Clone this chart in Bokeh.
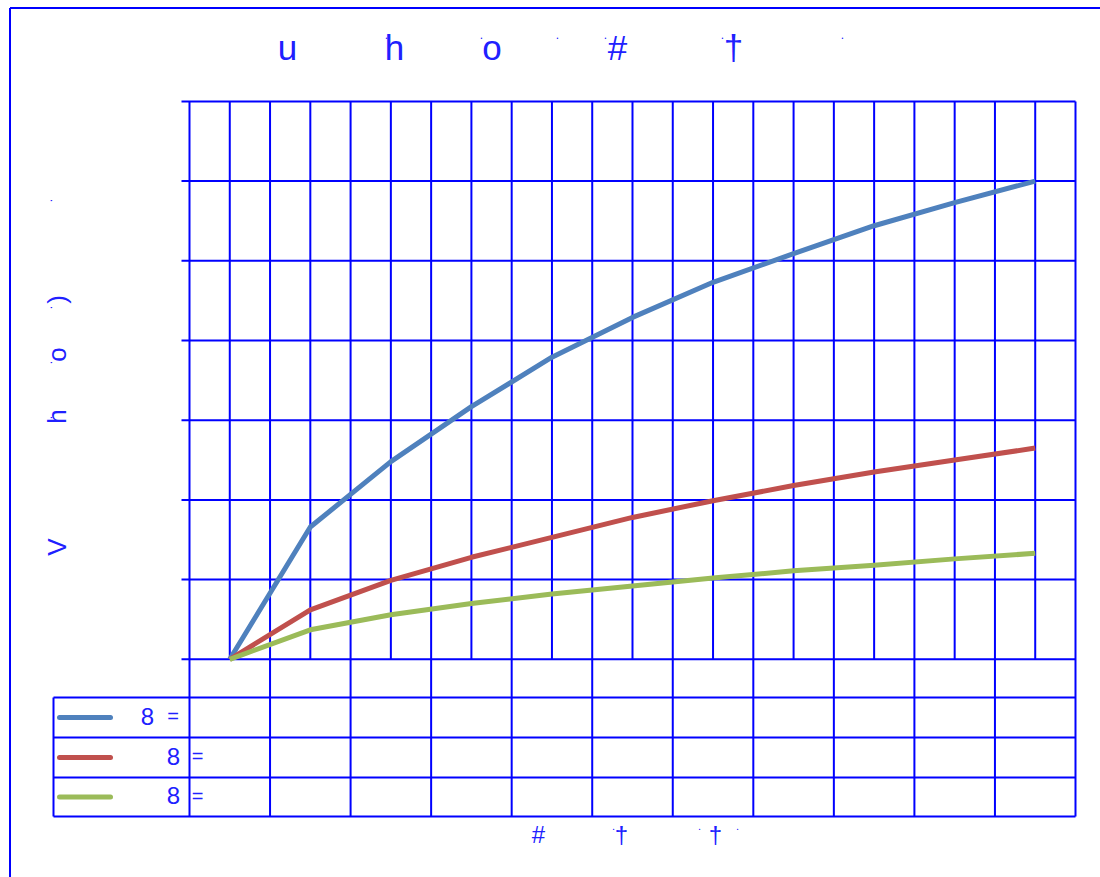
import numpy as np
from bokeh.plotting import figure
from bokeh.models import Range1d
from bokeh.core.properties import value
from bokeh.embed import file_html
from bokeh.resources import INLINE

# ---------------- data ----------------
categories = [str(i) for i in range(1, 12)]
series_labels = ["8", "8", "8"]
series_marks = ["=", "=", "="]
blue_vals = [0.0, 1.66, 2.48, 3.17, 3.79, 4.29, 4.73, 5.09, 5.44, 5.73, 6.00]
red_vals = [0.0, 0.62, 0.99, 1.28, 1.53, 1.78, 1.99, 2.18, 2.35, 2.50, 2.65]
green_vals = [0.0, 0.37, 0.56, 0.70, 0.82, 0.92, 1.02, 1.11, 1.18, 1.26, 1.33]
y_ticks = [0, 1, 2, 3, 4, 5, 6, 7]
title_glyphs = ["u", "h", "o", "#", "\u2020"]
ylabel_glyphs = ["V", "h", "o", ")"]
xlabel_glyphs = ["#", "\u2020", "\u2020"]

# ---------------- layout helpers (page pixel -> data) ----------------
W, H = 1100, 877
X0, DX = 229.27, 80.545
Y0, DY = 658.8, 79.7
BL = 0.37  # baseline correction as fraction of font size


def px(x):
    return (x - X0) / DX


def py(y):
    return (Y0 - y) / DY


BLUE = "#0000ff"
TXT = "#2020ff"
FONT = value("Liberation Sans")
series_colors = ["#4f81bd", "#c0504d", "#9bbb59"]

p = figure(width=W, height=H,
           x_range=Range1d(px(0), px(W)),
           y_range=Range1d(py(H), py(0)),
           toolbar_location=None, output_backend="svg",
           min_border=0, x_axis_location=None, y_axis_location=None)
p.outline_line_color = None
p.background_fill_color = "white"
p.border_fill_color = "white"
p.grid.visible = False

n = len(categories)
xr = n - 0.5
ytop = y_ticks[-1]

# outer frame
p.segment(x0=[px(9.5), px(9.5)], y0=[py(7.5), py(7.5)], x1=[px(W + 20), px(9.5)],
          y1=[py(7.5), py(H + 20)], line_color=BLUE, line_width=2)

# horizontal grid lines with tick stubs
p.segment(x0=[px(181)] * len(y_ticks), y0=y_ticks, x1=[xr] * len(y_ticks), y1=y_ticks,
          line_color=BLUE, line_width=2)

# vertical grid lines (category centres and boundaries)
centres = list(range(n))
bounds = [i - 0.5 for i in range(n + 1)]
table_rows = [py(697), py(737), py(777), py(816)]
p.segment(x0=centres, y0=[0] * n, x1=centres, y1=[ytop] * n, line_color=BLUE, line_width=2)
p.segment(x0=bounds, y0=[table_rows[-1]] * len(bounds), x1=bounds, y1=[ytop] * len(bounds),
          line_color=BLUE, line_width=2)

# data table lines
p.segment(x0=[px(53)] * 4, y0=table_rows, x1=[xr] * 4, y1=table_rows,
          line_color=BLUE, line_width=2)
p.segment(x0=[px(53)], y0=[table_rows[0]], x1=[px(53)], y1=[table_rows[-1]],
          line_color=BLUE, line_width=2)

# series lines
xs = list(range(n))
for vals, col in zip([blue_vals, red_vals, green_vals], series_colors):
    p.line(xs, vals, line_color=col, line_width=5, line_join="round")

# legend keys inside the table
row_c = [(table_rows[i] + table_rows[i + 1]) / 2 for i in range(3)]
p.segment(x0=[px(59)] * 3, y0=row_c, x1=[px(110)] * 3, y1=row_c,
          line_color=series_colors, line_width=5, line_cap="round")
p.text(x=[px(147), px(173), px(173)], y=[r + 1.5 / DY for r in row_c], text=series_labels,
       text_font=FONT, text_font_size="24px", text_color=TXT,
       text_align="center", text_baseline="middle")
p.text(x=[px(172.5), px(197), px(197)], y=[r + 1.5 / DY for r in row_c], text=series_marks,
       text_font=FONT, text_font_size="20px", text_color=TXT,
       text_align="center", text_baseline="middle")

# title glyphs
p.text(x=[px(287), px(394), px(491.5), px(617), px(733)], y=[py(60 - BL * 35)] * 5,
       text=title_glyphs, text_font=FONT, text_font_size="35px", text_color=TXT,
       text_align="center", text_baseline="alphabetic")
dots_x = [386, 481, 557, 605, 722, 842]
p.text(x=[px(v) for v in dots_x], y=[py(38 - BL * 12)] * len(dots_x), text=["."] * len(dots_x),
       text_font=FONT, text_font_size="12px", text_color=TXT,
       text_align="center", text_baseline="alphabetic")

# y-axis title glyphs (rotated)
p.text(x=[px(66.5 - BL * 26)] * 4, y=[py(546.5), py(416), py(354), py(299)], text=ylabel_glyphs,
       angle=np.pi / 2, text_font=FONT, text_font_size="26px", text_color=TXT,
       text_align="center", text_baseline="alphabetic")
ydots = [417, 362, 307, 200]
p.text(x=[px(51 - BL * 12)] * 4, y=[py(v) for v in ydots], text=["."] * 4, angle=np.pi / 2,
       text_font=FONT, text_font_size="12px", text_color=TXT,
       text_align="center", text_baseline="alphabetic")

# x-axis title glyphs
p.text(x=[px(538), px(621), px(715)], y=[py(843 - BL * 24)] * 3, text=xlabel_glyphs,
       text_font=FONT, text_font_size="24px", text_color=TXT,
       text_align="center", text_baseline="alphabetic")
xdots = [613, 699, 737]
p.text(x=[px(v) for v in xdots], y=[py(830 - BL * 11)] * 3, text=["."] * 3,
       text_font=FONT, text_font_size="11px", text_color=TXT,
       text_align="center", text_baseline="alphabetic")

open("out.html", "w").write(file_html(p, INLINE))
